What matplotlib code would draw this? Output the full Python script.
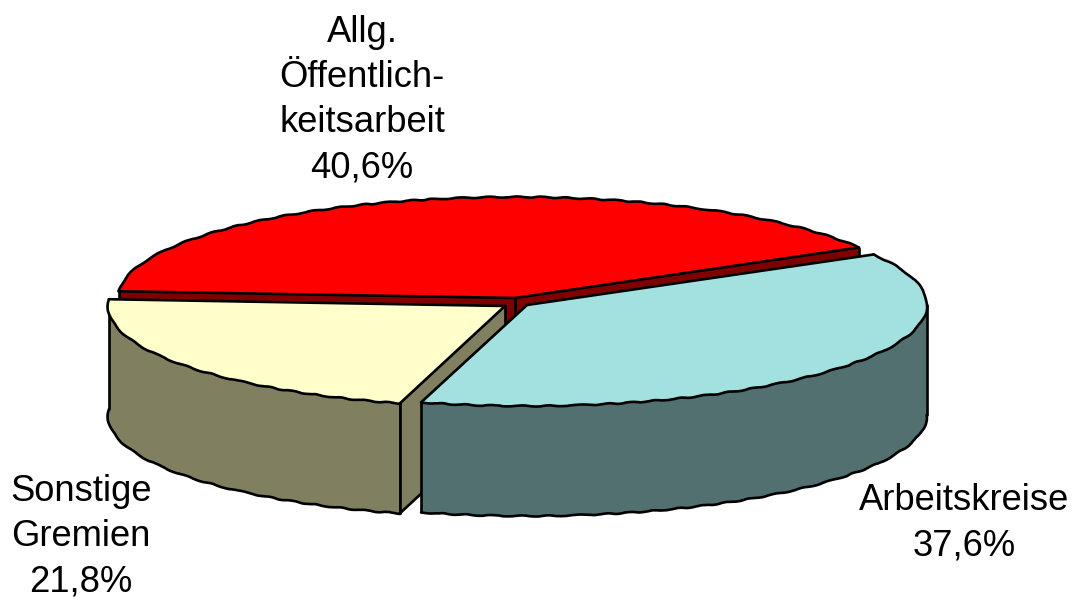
import matplotlib
import matplotlib.pyplot as plt
import numpy as np
matplotlib.use("Agg")

plt.rcParams.update({"font.family": "Liberation Sans", "font.size": 26.2})

names = ["Allg.\nÖffentlich-\nkeitsarbeit", "Arbeitskreise", "Sonstige\nGremien"]
shares = [40.6, 37.6, 21.8]
tops = ["#FF0000", "#A3E1E1", "#FFFFCC"]
sides = ["#800000", "#527070", "#808060"]

# pixel layout of the 3d pie, order: red, teal, yellow
START = 30.0
RX = [397, 400, 397]
RY = 101
DEPTH = 110
centers = [(515, 298), (527, 305), (505, 306)]
label_pos = [(362, 100), (964, 523), (81, 537)]
EDGE = "#000000"
LW = 1.9

z = [2]


def nextz():
    z[0] += 1
    return z[0]


def rim(i, a0, a1, dz=0):
    c = centers[i]
    t = np.radians(np.linspace(a0, a1, 240))
    return c[0] + RX[i] * np.cos(t), c[1] - RY * np.sin(t) + dz


def wavy(x, y):
    # the round edges are a bit shaky in the original
    line, = ax.plot(x, y, color=EDGE, lw=LW, solid_capstyle="round", zorder=nextz())
    line.set_sketch_params(scale=0.55, length=30, randomness=2.5)


def straight(xs, ys):
    ax.plot(xs, ys, color=EDGE, lw=LW, solid_capstyle="round", zorder=nextz())


def wall(i, a0, a1):
    x, y = rim(i, a0, a1)
    xb, yb = rim(i, a0, a1, DEPTH)
    ax.fill(np.r_[x, xb[::-1]], np.r_[y, yb[::-1]], color=sides[i], lw=0, zorder=nextz())
    wavy(xb, yb)
    straight([x[0], xb[0]], [y[0], yb[0]])
    straight([x[-1], xb[-1]], [y[-1], yb[-1]])


def cut(i, a):
    c = centers[i]
    x, y = rim(i, a, a)
    ax.fill([c[0], x[0], x[0], c[0]], [c[1], y[0], y[0] + DEPTH, c[1] + DEPTH],
            color=sides[i], lw=0, zorder=nextz())
    straight([c[0], c[0]], [c[1], c[1] + DEPTH])
    straight([x[0], x[0]], [y[0], y[0] + DEPTH])
    straight([c[0], x[0]], [c[1] + DEPTH, y[0] + DEPTH])


def top(i, a0, a1):
    c = centers[i]
    x, y = rim(i, a0, a1)
    ax.fill(np.r_[c[0], x], np.r_[c[1], y], color=tops[i], lw=0, zorder=nextz())
    wavy(x, y)
    straight([c[0], x[0]], [c[1], y[0]])
    straight([c[0], x[-1]], [c[1], y[-1]])


fig = plt.figure(figsize=(10.75, 5.99), dpi=100)
ax = fig.add_axes([0, 0, 1, 1])
ax.set_xlim(0, 1075)
ax.set_ylim(599, 0)
ax.axis("off")

spans = np.array(shares) / sum(shares) * 360
a_red = (START, START + spans[0])
a_teal = (START - spans[1], START)
a_yel = (START - spans[1] - spans[2], START - spans[1])

# back to front: red, yellow, teal
cut(0, a_red[0])
cut(0, a_red[1])
top(0, a_red[0], a_red[1])

wall(2, a_yel[0], a_yel[1])
cut(2, a_yel[1])
top(2, a_yel[0], a_yel[1])

wall(1, a_teal[0], 0)
top(1, a_teal[0], a_teal[1])

for name, share, pos in zip(names, shares, label_pos):
    txt = name + "\n" + f"{share:.1f}%".replace(".", ",")
    ax.text(pos[0], pos[1], txt, ha="center", va="center", linespacing=1.38,
            color="black", zorder=nextz())

fig.savefig("out.png", dpi=100)
